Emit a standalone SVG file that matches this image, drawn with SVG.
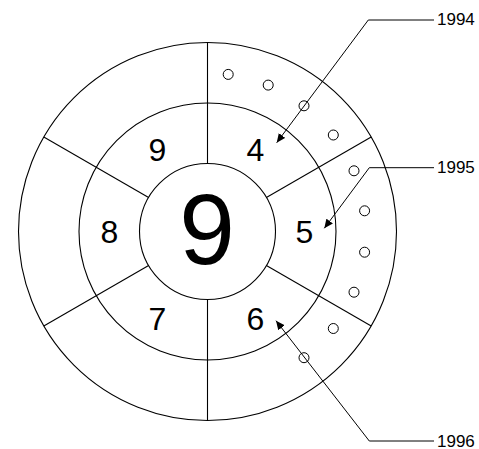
<svg xmlns="http://www.w3.org/2000/svg" width="479" height="449" viewBox="0 0 479 449">
<style>
.ln{fill:none;stroke:#000;stroke-width:1.1}
.dot{fill:#fff;stroke:#000;stroke-width:1}
.dg{font-family:"Liberation Sans",Arial,sans-serif;font-size:32px;text-anchor:middle;fill:#000}
.big{font-family:"Liberation Sans",Arial,sans-serif;font-size:100px;text-anchor:middle;fill:#000}
.yr{font-family:"Liberation Sans",Arial,sans-serif;font-size:17px;fill:#000}
.ld{fill:none;stroke:#000;stroke-width:1}
</style>
<defs>
<marker id="ah" viewBox="0 0 10 10" refX="10" refY="5" markerWidth="9" markerHeight="9" markerUnits="userSpaceOnUse" orient="auto">
<path d="M0,0.5 L10,5 L0,9.5 Z" fill="#000"/>
</marker>
</defs>
<rect width="479" height="449" fill="#fff"/>
<g id="rings">
<circle class="ln" cx="207.5" cy="231.5" r="189"/>
<circle class="ln" cx="207.5" cy="231.5" r="128.5"/>
<circle class="ln" cx="207.5" cy="231.5" r="68"/>
</g>
<g id="spokes">
<line class="ln" x1="207.5" y1="42.5" x2="207.5" y2="163.5"/>
<line class="ln" x1="207.5" y1="299.5" x2="207.5" y2="420.5"/>
<line class="ln" x1="266.4" y1="197.5" x2="371.2" y2="137"/>
<line class="ln" x1="266.4" y1="265.5" x2="371.2" y2="326"/>
<line class="ln" x1="148.6" y1="197.5" x2="43.8" y2="137"/>
<line class="ln" x1="148.6" y1="265.5" x2="43.8" y2="326"/>
</g>
<g id="dots">
<circle class="dot" cx="228.2" cy="74.4" r="5"/>
<circle class="dot" cx="268.2" cy="85.1" r="5"/>
<circle class="dot" cx="304" cy="105.8" r="5"/>
<circle class="dot" cx="333.3" cy="135" r="5"/>
<circle class="dot" cx="354" cy="170.8" r="5"/>
<circle class="dot" cx="364.6" cy="210.8" r="5"/>
<circle class="dot" cx="364.6" cy="252.2" r="5"/>
<circle class="dot" cx="354" cy="292.2" r="5"/>
<circle class="dot" cx="333.3" cy="328.5" r="5"/>
<circle class="dot" cx="304" cy="357.7" r="5"/>
</g>
<g id="center"><text class="big" x="207" y="264">9</text></g>
<g id="n9"><text class="dg" x="157.5" y="160.5">9</text></g>
<g id="n4"><text class="dg" x="255.5" y="160.5">4</text></g>
<g id="n8"><text class="dg" x="109.5" y="242.5">8</text></g>
<g id="n5"><text class="dg" x="304.5" y="242.5">5</text></g>
<g id="n7"><text class="dg" x="157.5" y="329.5">7</text></g>
<g id="n6"><text class="dg" x="255.5" y="329.5">6</text></g>
<g id="connectors">
<polyline class="ld" points="434,20 368.3,20 276.7,142.7" marker-end="url(#ah)"/>
<polyline class="ld" points="434,167.7 369.3,167.7 324.3,228.3" marker-end="url(#ah)"/>
<polyline class="ld" points="434,441 369.3,441 276,320.7" marker-end="url(#ah)"/>
</g>
<g id="labels">
<text class="yr" x="437" y="25">1994</text>
<text class="yr" x="437" y="172.5">1995</text>
<text class="yr" x="437" y="446.5">1996</text>
</g>
</svg>
